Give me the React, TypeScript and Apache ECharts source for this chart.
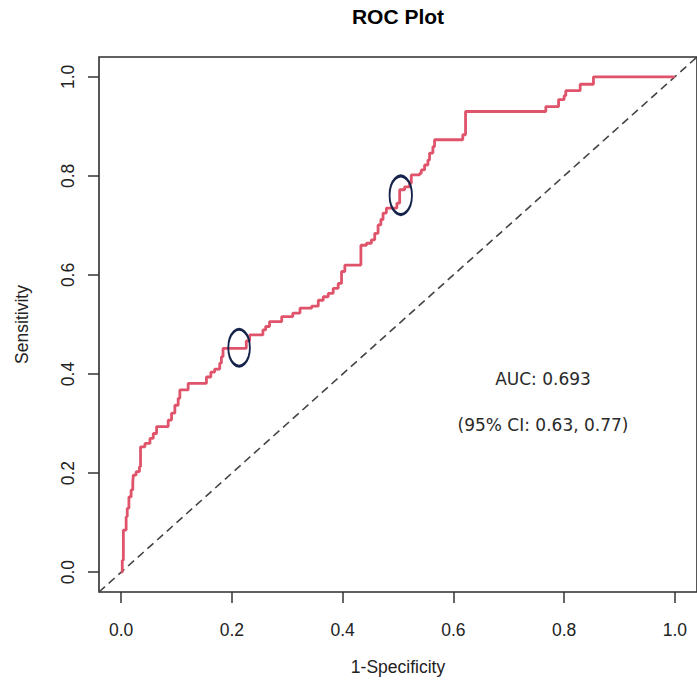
import React, { useEffect, useRef } from "react";
import * as echarts from "echarts";

// ROC curve: 1-Specificity (fpr) and Sensitivity (tpr), step corners (horizontal then vertical)
const fpr = [
  0, 0.002, 0.004, 0.009, 0.011, 0.014, 0.018, 0.021, 0.022, 0.027, 0.033, 0.035,
  0.043, 0.052, 0.058, 0.064, 0.085, 0.091, 0.097, 0.103, 0.106, 0.121, 0.154,
  0.162, 0.169, 0.178, 0.181, 0.184, 0.226, 0.232, 0.256, 0.261, 0.268, 0.29,
  0.31, 0.323, 0.344, 0.356, 0.365, 0.374, 0.383, 0.392, 0.398, 0.404, 0.433,
  0.443, 0.452, 0.458, 0.464, 0.469, 0.473, 0.479, 0.498, 0.503, 0.512, 0.521,
  0.524, 0.539, 0.542, 0.548, 0.554, 0.557, 0.563, 0.566, 0.617, 0.622, 0.767,
  0.79, 0.8, 0.803, 0.829, 0.853, 1.0,
];
const tpr = [
  0, 0.024, 0.085, 0.112, 0.129, 0.152, 0.166, 0.182, 0.196, 0.203, 0.213, 0.253,
  0.26, 0.27, 0.28, 0.294, 0.307, 0.321, 0.337, 0.351, 0.368, 0.381, 0.394,
  0.404, 0.41, 0.422, 0.435, 0.452, 0.467, 0.479, 0.489, 0.496, 0.506, 0.516,
  0.523, 0.533, 0.537, 0.549, 0.556, 0.563, 0.573, 0.583, 0.607, 0.62, 0.66,
  0.664, 0.671, 0.684, 0.701, 0.712, 0.725, 0.735, 0.745, 0.772, 0.778, 0.785,
  0.802, 0.805, 0.812, 0.822, 0.832, 0.846, 0.859, 0.873, 0.883, 0.93, 0.94,
  0.954, 0.962, 0.972, 0.985, 1.0, 1.0,
];

// chance diagonal spanning the whole plot region
const diagonal = [-0.04, 1.04];

// highlighted points (circled)
const markFpr = [0.213, 0.505];
const markTpr = [0.453, 0.761];

const tickValues = [0, 0.2, 0.4, 0.6, 0.8, 1.0];
const axisMin = -0.04;
const axisMax = 1.04;

const chartTitle = "ROC Plot";
const xTitle = "1-Specificity";
const yTitle = "Sensitivity";
const aucLines = ["AUC: 0.693", "(95% CI: 0.63, 0.77)"];

const SANS = "'Liberation Sans', Arial, sans-serif";

export default function App() {
  const ref = useRef<HTMLDivElement>(null);

  useEffect(() => {
    if (!ref.current) return;
    const chart = echarts.init(ref.current, undefined, { renderer: "svg" });

    const labelStyle = { fontFamily: SANS, fontSize: 17.5, color: "#222" };
    const ellipseSizes = [
      [21.6, 36.6],
      [22.4, 38.4],
    ];
    const tickStyle = {
      show: true,
      inside: false,
      customValues: tickValues,
      length: 11,
      lineStyle: { color: "#333", width: 1.5 },
    };

    chart.setOption({
      animation: false,
      backgroundColor: "#ffffff",
      grid: {
        left: 99,
        right: -1,
        top: 57,
        bottom: 92,
        show: true,
        borderColor: "#2e2e2e",
        borderWidth: 1.6,
        backgroundColor: "transparent",
      },
      xAxis: {
        type: "value",
        min: axisMin,
        max: axisMax,
        name: xTitle,
        nameLocation: "middle",
        nameGap: 66,
        nameTextStyle: labelStyle,
        axisLine: { show: false, onZero: false },
        axisTick: tickStyle,
        axisLabel: {
          customValues: tickValues,
          formatter: (v: number) => v.toFixed(1),
          margin: 29,
          ...labelStyle,
        },
        splitLine: { show: false },
      },
      yAxis: {
        type: "value",
        min: axisMin,
        max: axisMax,
        name: yTitle,
        nameLocation: "middle",
        nameGap: 68,
        nameTextStyle: labelStyle,
        axisLine: { show: false, onZero: false },
        axisTick: tickStyle,
        axisLabel: {
          customValues: tickValues,
          formatter: (v: number) => v.toFixed(1),
          rotate: 90,
          margin: 22,
          ...labelStyle,
        },
        splitLine: { show: false },
      },
      series: [
        {
          type: "line",
          data: diagonal.map((v) => [v, v]),
          symbol: "none",
          lineStyle: { color: "#444", width: 1.6, type: [8, 5] },
          z: 2,
          silent: true,
        },
        {
          type: "line",
          step: "end",
          data: fpr.map((x, i) => [x, tpr[i]]),
          symbol: "none",
          lineStyle: { color: "#DF536B", width: 2.8 },
          z: 3,
          silent: true,
        },
        {
          type: "scatter",
          data: markFpr.map((x, i) => ({ value: [x, markTpr[i]], symbolSize: ellipseSizes[i] })),
          symbol: "circle",
          itemStyle: {
            color: "transparent",
            borderColor: "#16234a",
            borderWidth: 2.4,
            opacity: 1,
          },
          z: 4,
          silent: true,
        },
      ],
      graphic: [
        {
          type: "text",
          x: 398,
          y: 16,
          style: {
            text: chartTitle,
            fill: "#000",
            font: `bold 21px ${SANS}`,
            textAlign: "center",
            textVerticalAlign: "middle",
          },
        },
        ...aucLines.map((t, i) => ({
          type: "text",
          x: 543,
          y: 379 + i * 46,
          style: {
            text: t,
            fill: "#2a2a2a",
            font: "17px 'DejaVu Sans', sans-serif",
            textAlign: "center",
            textVerticalAlign: "middle",
          },
        })),
      ],
    });

    return () => chart.dispose();
  }, []);

  return (
    <div
      ref={ref}
      style={{ position: "fixed", left: 0, top: 0, width: 697, height: 684, background: "#fff" }}
    />
  );
}
